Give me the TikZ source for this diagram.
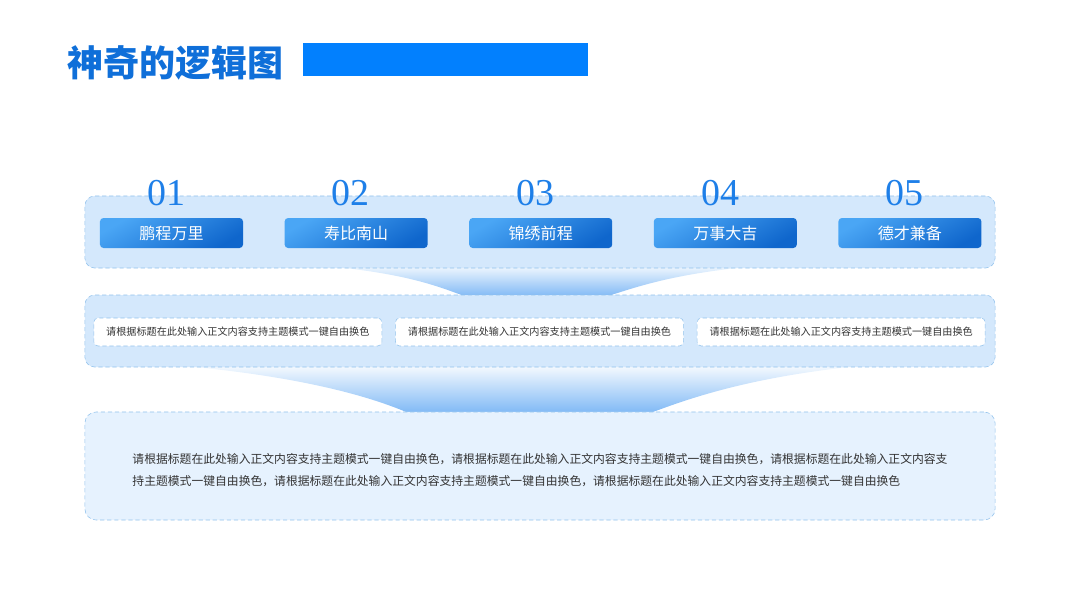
\documentclass[tikz,border=0pt]{standalone}
\usepackage{fontspec}
\setmainfont{Liberation Serif}
\newfontfamily\cjk{Noto Sans CJK SC}
\usetikzlibrary{positioning}

\definecolor{titleblue}{HTML}{0F6FD9}
\definecolor{barblue}{HTML}{0280FE}
\definecolor{numblue}{HTML}{1E7FE8}
\definecolor{panelfill}{HTML}{D4E8FC}
\definecolor{paleblue}{HTML}{E6F2FE}
\definecolor{edgeblue}{HTML}{92C2EC}
\definecolor{btnlight}{HTML}{4AA6F5}
\definecolor{btnmid}{HTML}{3390EC}
\definecolor{btndark}{HTML}{0F66CC}
\definecolor{funnelblue}{HTML}{7AB6F5}
\definecolor{txtgray}{HTML}{333333}

\begin{document}
\begin{tikzpicture}[x=0.025cm, y=-0.025cm,
    panel/.style={draw=edgeblue, densely dashed, line width=0.4pt,
      rounded corners=7pt, fill=panelfill, minimum width=22.75cm,
      minimum height=1.8cm},
    btn/.style={rounded corners=2.5pt, top color=btnlight, middle color=btnmid,
      bottom color=btndark, shading angle=30,
      minimum width=3.575cm, minimum height=0.75cm, text=white,
      font=\cjk\fontsize{11.4}{13}\selectfont},
    num/.style={inner sep=0pt, text=numblue, font=\fontsize{27}{27}\selectfont},
    tip/.style={draw=edgeblue, densely dashed, line width=0.4pt, fill=white,
      rounded corners=3pt, minimum width=7.2cm, minimum height=0.7cm,
      text=txtgray, font=\cjk\fontsize{7.2}{9}\selectfont},
    funnel/.style={top color=white, bottom color=funnelblue},
  ]
  \useasboundingbox (0,0) rectangle (1080,608);

  % --- heading ---
  \node[anchor=west, inner sep=0pt, text=titleblue,
    font=\cjk\bfseries\fontsize{25.6}{28}\selectfont] (title) at (67,63) {神奇的逻辑图};
  \fill[barblue] (303,43) rectangle (588,76);

  % --- funnels between the rows ---
  \shade[funnel] (250,262) .. controls (400,266) and (440,288) .. (470,298)
    -- (602,298) .. controls (640,286) and (690,266) .. (830,262) -- cycle;
  \shade[funnel] (130,362) .. controls (300,372) and (380,400) .. (413,415)
    -- (645,415) .. controls (690,398) and (760,372) .. (905,362) -- cycle;

  % --- row 1: five steps ---
  \node[panel] (row1) at (540,232) {};
  \node[btn] (b1) at (171.5,233) {鹏程万里};
  \node[btn, right=1.025cm of b1] (b2) {寿比南山};
  \node[btn, right=1.025cm of b2] (b3) {锦绣前程};
  \node[btn, right=1.025cm of b3] (b4) {万事大吉};
  \node[btn, right=1.025cm of b4] (b5) {德才兼备};
  \foreach \i in {1,...,5}
    \node[num, above=0.28cm of b\i, xshift=-0.13cm] (n\i) {0\i};

  % --- row 2: three notes ---
  \node[panel] (row2) at (540,331) {};
  \node[tip] (t2) at (539.5,332) {请根据标题在此处输入正文内容支持主题模式一键自由换色};
  \node[tip, left=0.325cm of t2] (t1) {请根据标题在此处输入正文内容支持主题模式一键自由换色};
  \node[tip, right=0.325cm of t2] (t3) {请根据标题在此处输入正文内容支持主题模式一键自由换色};

  % --- row 3: summary ---
  \node[panel, fill=paleblue, minimum height=2.7cm, rounded corners=8pt] (row3) at (540,466) {};
  \node[align=left, text=txtgray, font=\cjk\fontsize{8.4}{15.6}\selectfont] (body) at (540,470)
    {请根据标题在此处输入正文内容支持主题模式一键自由换色，请根据标题在此处输入正文内容支持主题模式一键自由换色，请根据标题在此处输入正文内容支\\
     持主题模式一键自由换色，请根据标题在此处输入正文内容支持主题模式一键自由换色，请根据标题在此处输入正文内容支持主题模式一键自由换色};
\end{tikzpicture}
\end{document}
